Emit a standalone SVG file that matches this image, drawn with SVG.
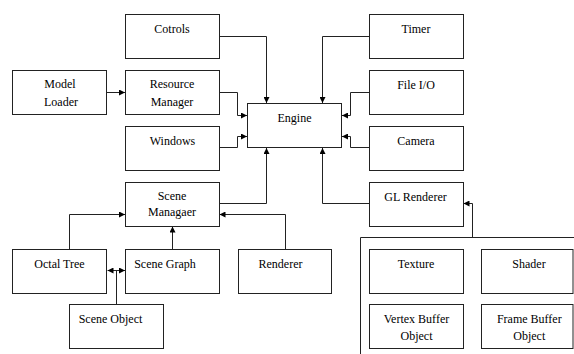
<svg xmlns="http://www.w3.org/2000/svg" width="574" height="354" viewBox="0 0 574 354" font-family="Liberation Serif, DejaVu Serif, serif" font-size="12">
<style>
rect.b{fill:#fff;stroke:#222;stroke-width:1}
text{fill:#000;text-anchor:middle}
.c{fill:none;stroke:#222;stroke-width:1}
</style>
<defs>
<marker id="ah" viewBox="0 0 6 6" refX="6" refY="3" markerWidth="6" markerHeight="6" markerUnits="userSpaceOnUse" orient="auto-start-reverse">
<path d="M0,0 L6,3 L0,6 Z" fill="#000"/>
</marker>
</defs>
<g id="connectors">
<path class="c" d="M219.5,36.5 H266.5 V103" marker-end="url(#ah)"/>
<path class="c" d="M369.5,36.5 H322.5 V103" marker-end="url(#ah)"/>
<path class="c" d="M107,92.5 H125" marker-end="url(#ah)"/>
<path class="c" d="M219.5,92.5 H237.5 V115.5 H247" marker-end="url(#ah)"/>
<path class="c" d="M219.5,147.5 H237.5 V136.5 H247" marker-end="url(#ah)"/>
<path class="c" d="M369.5,92.5 H350.5 V115.5 H342" marker-end="url(#ah)"/>
<path class="c" d="M369.5,147.5 H350.5 V136.5 H342" marker-end="url(#ah)"/>
<path class="c" d="M219.5,203.5 H266.5 V148" marker-end="url(#ah)"/>
<path class="c" d="M369.5,203.5 H322.5 V148" marker-end="url(#ah)"/>
<path class="c" d="M69.5,249 V214.5 H125" marker-end="url(#ah)"/>
<path class="c" d="M172.5,249 V226.5" marker-end="url(#ah)"/>
<path class="c" d="M285.5,249 V214.5 H219.5" marker-end="url(#ah)"/>
<path class="c" d="M107.5,270.5 H125" marker-start="url(#ah)" marker-end="url(#ah)"/>
<path class="c" d="M116.5,304 V270.5"/>
<path class="c" d="M472.5,237.5 V203.5 H463.5" marker-end="url(#ah)"/>
<path class="c" d="M360.5,354 V237.5 H574"/>
</g>
<g id="cotrols"><rect class="b" x="125.5" y="14.5" width="94" height="44"/><text x="172" y="33">Cotrols</text></g>
<g id="timer"><rect class="b" x="369.5" y="14.5" width="94" height="44"/><text x="416" y="33">Timer</text></g>
<g id="model-loader"><rect class="b" x="12.5" y="70.5" width="94" height="44"/><text x="60" y="88">Model</text><text x="61" y="106">Loader</text></g>
<g id="resource-manager"><rect class="b" x="125.5" y="70.5" width="94" height="44"/><text x="172" y="88">Resource</text><text x="172" y="106">Manager</text></g>
<g id="file-io"><rect class="b" x="369.5" y="70.5" width="94" height="44"/><text x="416" y="89">File I/O</text></g>
<g id="engine"><rect class="b" x="247.5" y="103.5" width="94" height="44"/><text x="294.5" y="122">Engine</text></g>
<g id="windows"><rect class="b" x="125.5" y="126.5" width="94" height="44"/><text x="172.5" y="145">Windows</text></g>
<g id="camera"><rect class="b" x="369.5" y="126.5" width="94" height="44"/><text x="416" y="145">Camera</text></g>
<g id="scene-manager"><rect class="b" x="125.5" y="182.5" width="94" height="44"/><text x="172" y="200">Scene</text><text x="172" y="216">Managaer</text></g>
<g id="gl-renderer"><rect class="b" x="369.5" y="182.5" width="94" height="44"/><text x="415.5" y="201">GL Renderer</text></g>
<g id="octal-tree"><rect class="b" x="12.5" y="249.5" width="94" height="44"/><text x="59.5" y="268">Octal Tree</text></g>
<g id="scene-graph"><rect class="b" x="125.5" y="249.5" width="94" height="44"/><text x="165" y="268">Scene Graph</text></g>
<g id="renderer"><rect class="b" x="238.5" y="249.5" width="93" height="44"/><text x="280.5" y="268">Renderer</text></g>
<g id="scene-object"><rect class="b" x="69.5" y="304.5" width="94" height="44"/><text x="110.5" y="323">Scene Object</text></g>
<g id="texture"><rect class="b" x="369.5" y="249.5" width="94" height="44"/><text x="416" y="268">Texture</text></g>
<g id="shader"><rect class="b" x="481.5" y="249.5" width="91.5" height="44"/><text x="529" y="268">Shader</text></g>
<g id="vbo"><rect class="b" x="369.5" y="304.5" width="94" height="44"/><text x="416.5" y="323">Vertex Buffer</text><text x="416.5" y="340">Object</text></g>
<g id="fbo"><rect class="b" x="481.5" y="304.5" width="91.5" height="44"/><text x="529.3" y="323">Frame Buffer</text><text x="529.3" y="340">Object</text></g>
</svg>
